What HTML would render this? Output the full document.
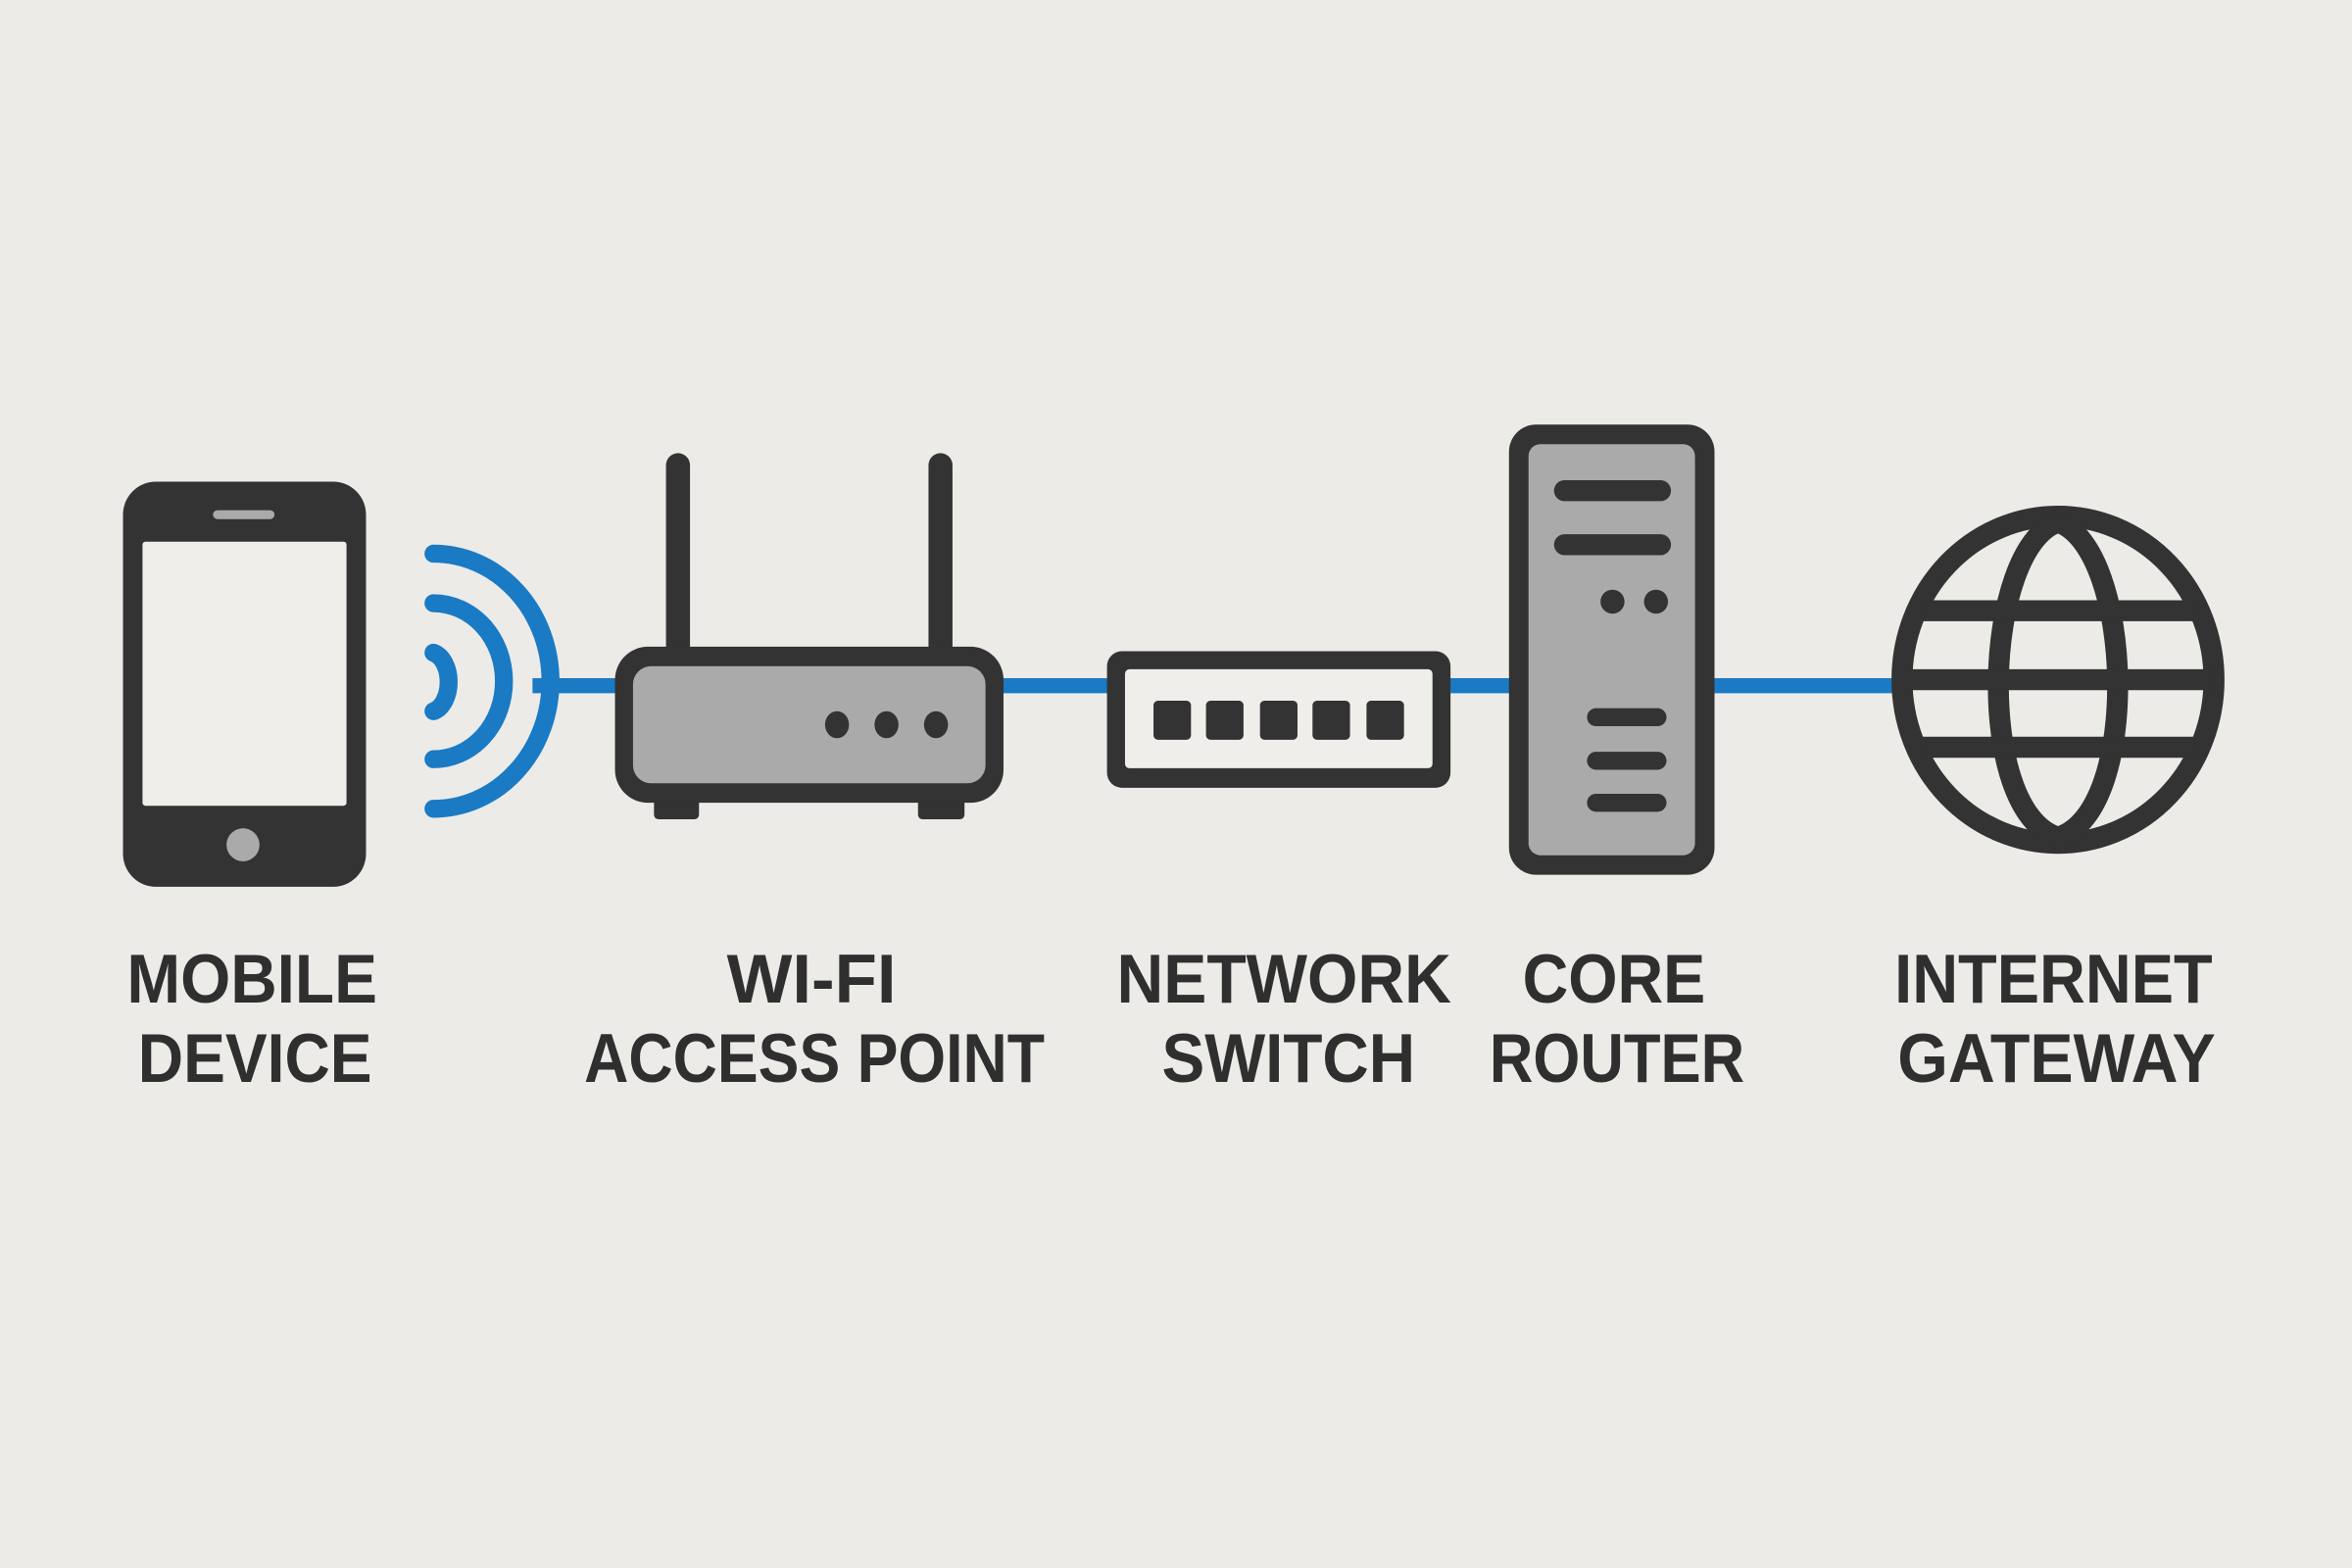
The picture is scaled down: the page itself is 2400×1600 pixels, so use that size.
<!DOCTYPE html>
<html><head><meta charset="utf-8"><style>
html,body{margin:0;padding:0;background:#edebe8;}
svg{display:block;}
text{font-family:"Liberation Sans",sans-serif;font-weight:bold;fill:#2f2f2f;font-size:46px;text-anchor:middle;}
</style></head><body>
<svg width="2400" height="1600" viewBox="0 0 1568 1045" preserveAspectRatio="none">
<rect width="1568" height="1045" fill="#edebe8"/>
<!-- blue line -->
<line x1="355" y1="457" x2="1265" y2="457" stroke="#1a7ac4" stroke-width="10"/>
<!-- phone -->
<rect x="82" y="321" width="162" height="270" rx="22" fill="#333"/>
<rect x="95" y="361" width="136" height="176" rx="2" fill="#efeeeb"/>
<rect x="142" y="340" width="41" height="6" rx="3" fill="#aaa"/>
<circle cx="162" cy="563" r="11" fill="#aaa"/>
<!-- wifi arcs -->
<g fill="none" stroke="#1a7ac4" stroke-width="12" stroke-linecap="round">
<path d="M289 435 A13 20 0 0 1 289 474"/>
<path d="M289 402 A47 52 0 0 1 289 506"/>
<path d="M289 369 A78 85 0 0 1 289 539"/>
</g>
<!-- router -->
<line x1="452" y1="310" x2="452" y2="435" stroke="#333" stroke-width="16" stroke-linecap="round"/>
<line x1="627" y1="310" x2="627" y2="435" stroke="#333" stroke-width="16" stroke-linecap="round"/>
<rect x="436" y="528" width="30" height="18" rx="3" fill="#333"/>
<rect x="612" y="528" width="31" height="18" rx="3" fill="#333"/>
<rect x="410" y="431" width="259" height="104" rx="22" fill="#333"/>
<rect x="422" y="444" width="235" height="78" rx="12" fill="#aaa"/>
<ellipse cx="558" cy="483" rx="8" ry="9" fill="#333"/>
<ellipse cx="591" cy="483" rx="8" ry="9" fill="#333"/>
<ellipse cx="624" cy="483" rx="8" ry="9" fill="#333"/>
<!-- switch -->
<rect x="738" y="434" width="229" height="91" rx="10" fill="#333"/>
<rect x="750" y="446" width="205" height="66" rx="3" fill="#efeeeb"/>
<g fill="#333">
<rect x="769" y="467" width="25" height="26" rx="3"/>
<rect x="804" y="467" width="25" height="26" rx="3"/>
<rect x="840" y="467" width="25" height="26" rx="3"/>
<rect x="875" y="467" width="25" height="26" rx="3"/>
<rect x="911" y="467" width="25" height="26" rx="3"/>
</g>
<!-- server -->
<rect x="1006" y="283" width="137" height="300" rx="18" fill="#333"/>
<rect x="1019" y="296" width="111" height="274" rx="8" fill="#aaa"/>
<g stroke="#333" stroke-linecap="round">
<line x1="1043" y1="327" x2="1107" y2="327" stroke-width="14"/>
<line x1="1043" y1="363" x2="1107" y2="363" stroke-width="14"/>
<line x1="1064" y1="478" x2="1105" y2="478" stroke-width="12"/>
<line x1="1064" y1="507" x2="1105" y2="507" stroke-width="12"/>
<line x1="1064" y1="535" x2="1105" y2="535" stroke-width="12"/>
</g>
<circle cx="1075" cy="401" r="8" fill="#333"/>
<circle cx="1104" cy="401" r="8" fill="#333"/>
<!-- globe -->
<g fill="none" stroke="#333" stroke-width="14">
<ellipse cx="1372" cy="453" rx="104" ry="109"/>
<path d="M1372 348 C1322 365 1316 541 1372 558 C1428 541 1422 365 1372 348 Z"/>
<line x1="1280" y1="407" x2="1464" y2="407"/>
<line x1="1268" y1="453" x2="1476" y2="453"/>
<line x1="1280" y1="498" x2="1464" y2="498"/>
</g>
<!-- labels -->
<g>
<text x="168" y="668" textLength="167" lengthAdjust="spacingAndGlyphs">MOBILE</text>
<text x="170" y="721" textLength="156" lengthAdjust="spacingAndGlyphs">DEVICE</text>
<text x="541" y="668" textLength="113" lengthAdjust="spacingAndGlyphs">WI-FI</text>
<text x="543" y="721" textLength="307" lengthAdjust="spacingAndGlyphs">ACCESS POINT</text>
<text x="856" y="668" textLength="223" lengthAdjust="spacingAndGlyphs">NETWORK</text>
<text x="859" y="721" textLength="169" lengthAdjust="spacingAndGlyphs">SWITCH</text>
<text x="1076" y="668" textLength="122" lengthAdjust="spacingAndGlyphs">CORE</text>
<text x="1078" y="721" textLength="170" lengthAdjust="spacingAndGlyphs">ROUTER</text>
<text x="1369" y="668" textLength="212" lengthAdjust="spacingAndGlyphs">INTERNET</text>
<text x="1371" y="721" textLength="212" lengthAdjust="spacingAndGlyphs">GATEWAY</text>
</g>
</svg>
</body></html>
